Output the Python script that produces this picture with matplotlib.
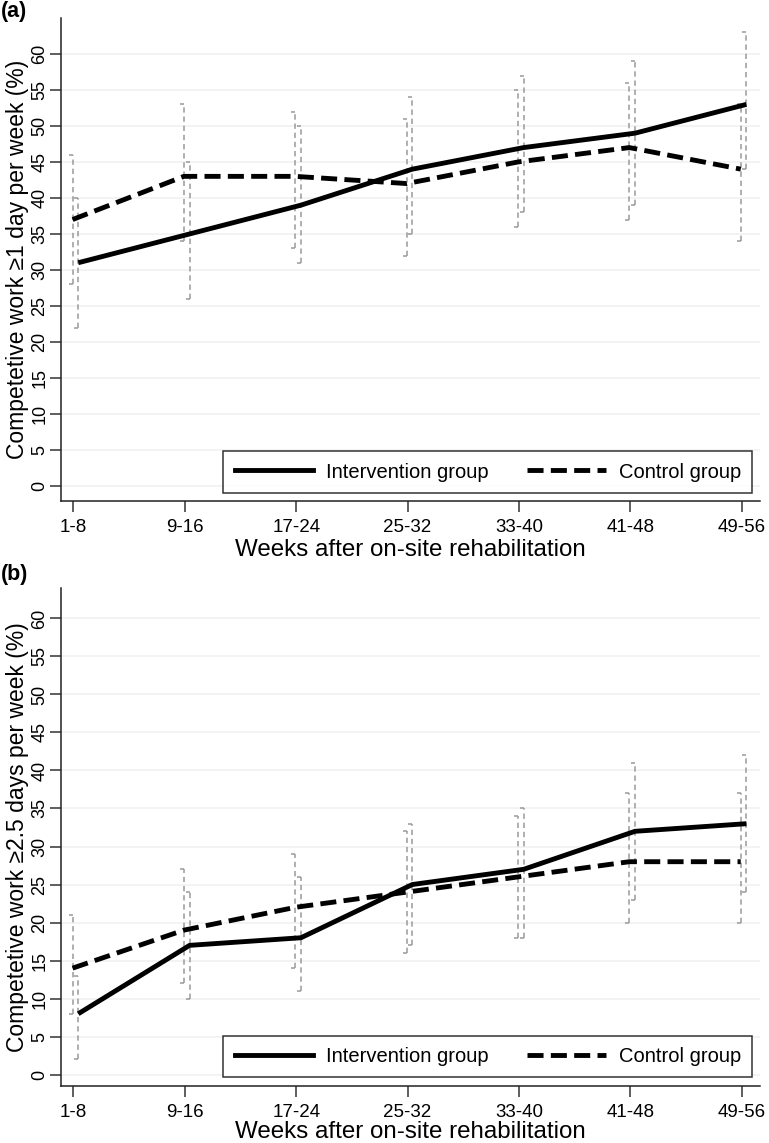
import matplotlib
matplotlib.use("Agg")
import matplotlib.pyplot as plt
from matplotlib.lines import Line2D
import numpy as np

plt.rcParams['font.family'] = ['Liberation Sans', 'DejaVu Sans']

categories = ["1-8", "9-16", "17-24", "25-32", "33-40", "41-48", "49-56"]

# Panel (a): competitive work >=1 day per week (%)
a_interv = [31, 35, 39, 44, 47, 49, 53]
a_interv_lo = [22, 26, 31, 35, 38, 39, 44]
a_interv_hi = [40, 45, 50, 54, 57, 59, 63]
a_control = [37, 43, 43, 42, 45, 47, 44]
a_control_lo = [28, 34, 33, 32, 36, 37, 34]
a_control_hi = [46, 53, 52, 51, 55, 56, 53]

# Panel (b): competitive work >=2.5 days per week (%)
b_interv = [8, 17, 18, 25, 27, 32, 33]
b_interv_lo = [2, 10, 11, 17, 18, 23, 24]
b_interv_hi = [13, 24, 26, 33, 35, 41, 42]
b_control = [14, 19, 22, 24, 26, 28, 28]
b_control_lo = [8, 12, 14, 16, 18, 20, 20]
b_control_hi = [21, 27, 29, 32, 34, 37, 37]

yticks = list(range(0, 61, 5))
xlabel = "Weeks after on-site rehabilitation"
ylabel_a = "Competetive work \u22651 day per week (%)"
ylabel_b = "Competetive work \u22652.5 days per week (%)"

W, H = 769, 1143
fig = plt.figure(figsize=(W / 100, H / 100), dpi=100)

X_LEFT, X_RIGHT = 61, 760


def make_ax(top_px, bottom_px):
    return fig.add_axes([X_LEFT / W, (H - bottom_px) / H,
                         (X_RIGHT - X_LEFT) / W, (bottom_px - top_px) / H])


ax_a = make_ax(18, 501)
ax_b = make_ax(588, 1086)

GRAY = "#9a9a9a"
OFF_C = -0.008
OFF_I = 0.043
CAP = 0.036
LW = 3.5
DASH = (3.3, 1.5)


def draw_panel(ax, interv, ilo, ihi, control, clo, chi, ylabel, ylim, tag,
               tag_top_px, xlabelpad):
    x = np.arange(1, len(categories) + 1)
    xc = x + OFF_C
    xi = x + OFF_I
    for xs, lo, hi in ((xc, clo, chi), (xi, ilo, ihi)):
        ax.vlines(xs, lo, hi, colors=GRAY, linewidth=1.1,
                  linestyles=(0, (3.5, 2.5)), zorder=2)
        ax.hlines(lo, xs - CAP, xs, colors=GRAY, linewidth=1.1, zorder=2)
        ax.hlines(hi, xs - CAP, xs, colors=GRAY, linewidth=1.1, zorder=2)
    ax.plot(xi, interv, color="black", linewidth=LW, solid_capstyle="butt",
            solid_joinstyle="miter", zorder=4)
    ax.plot(xc, control, color="black", linewidth=LW, dashes=DASH,
            dash_capstyle="butt", zorder=4)
    ax.set_xlim(0.888, 7.165)
    ax.set_ylim(*ylim)
    ax.set_yticks(yticks)
    ax.set_yticklabels([str(v) for v in yticks], rotation=90, va="center",
                       fontsize=13)
    ax.set_xticks(x)
    ax.set_xticklabels(categories, fontsize=13.5)
    ax.tick_params(axis="both", length=8, width=1.1, color="#333333")
    ax.tick_params(axis="x", pad=5)
    ax.tick_params(axis="y", pad=1)
    ax.grid(axis="y", color="#f3f3f3", linewidth=1.4, zorder=0)
    ax.set_axisbelow(True)
    for s in ("top", "right"):
        ax.spines[s].set_visible(False)
    for s in ("left", "bottom"):
        ax.spines[s].set_linewidth(1.1)
        ax.spines[s].set_color("#222222")
    ax.set_xlabel(xlabel, fontsize=17.4, labelpad=xlabelpad)
    ax.set_ylabel(ylabel, fontsize=16.5, labelpad=2)
    handles = [Line2D([], [], color="black", linewidth=LW),
               Line2D([], [], color="black", linewidth=LW, dashes=DASH)]
    leg = ax.legend(handles, ["Intervention group", "Control group"], ncol=2,
                    loc="lower right", bbox_to_anchor=(0.9886, 0.0174),
                    borderaxespad=0, fontsize=14.5, frameon=True,
                    fancybox=False, edgecolor="black", handlelength=3.9,
                    handletextpad=0.65, columnspacing=1.9, borderpad=0.55)
    leg.get_frame().set_linewidth(1.1)
    leg.set_zorder(5)
    fig.text(1 / W, 1 - tag_top_px / H, tag, fontsize=15.5,
             fontweight="bold", ha="left", va="top")


draw_panel(ax_a, a_interv, a_interv_lo, a_interv_hi, a_control, a_control_lo,
           a_control_hi, ylabel_a, (-2.1, 65.0), "(a)", 1, 2)
draw_panel(ax_b, b_interv, b_interv_lo, b_interv_hi, b_control, b_control_lo,
           b_control_hi, ylabel_b, (-1.5, 64.0), "(b)", 564, 0)

fig.savefig("out.png", dpi=100, facecolor="white")
